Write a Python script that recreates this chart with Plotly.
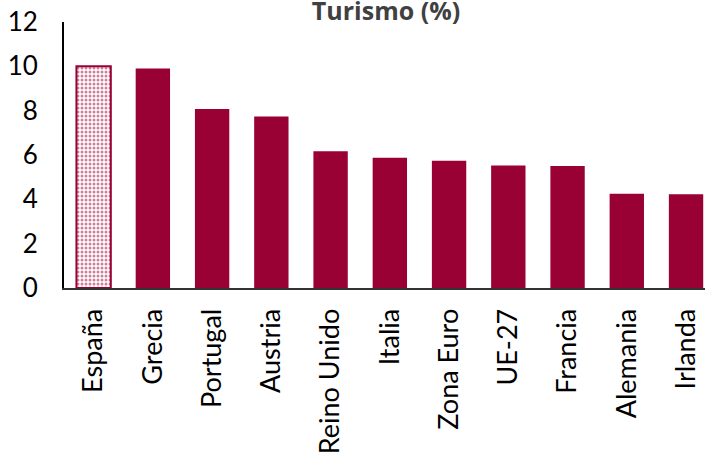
import plotly.graph_objects as go

# Peso del turismo en el PIB (%)
paises = ["España", "Grecia", "Portugal", "Austria", "Reino Unido", "Italia",
          "Zona Euro", "UE-27", "Francia", "Alemania", "Irlanda"]
turismo = [10.0, 9.9, 8.07, 7.74, 6.17, 5.88, 5.74, 5.53, 5.5, 4.25, 4.23]
y_ticks = [0, 2, 4, 6, 8, 10, 12]

granate = "#990033"

fig = go.Figure()

# España destacada con relleno punteado; el resto en color sólido
fig.add_trace(go.Bar(
    x=paises[:1], y=turismo[:1],
    marker=dict(
        color="white",
        line=dict(color=granate, width=2),
        pattern=dict(shape=".", fgcolor=granate, bgcolor="white",
                     size=4, solidity=0.45, fillmode="overlay"),
    ),
    width=0.58, hoverinfo="x+y", showlegend=False,
))
fig.add_trace(go.Bar(
    x=paises[1:], y=turismo[1:],
    marker=dict(color=granate, line=dict(width=0)),
    width=0.58, hoverinfo="x+y", showlegend=False,
))

fig.update_layout(
    width=705, height=456,
    margin=dict(l=64, r=0, t=22, b=168),
    paper_bgcolor="white", plot_bgcolor="white",
    font=dict(family="Lato, sans-serif", color="black"),
    title=dict(text="<b>Turismo (%)</b>", x=386 / 705, xanchor="center",
               y=1 - 11 / 456, yanchor="middle",
               font=dict(family="Open Sans, sans-serif", size=25, color="#404040")),
    barmode="overlay",
)

fig.update_xaxes(
    type="category", categoryorder="array", categoryarray=paises,
    range=[-0.5, 10.32],
    showline=True, linecolor="#333333", linewidth=2,
    showgrid=False, ticks="", tickangle=-90,
    tickfont=dict(size=27, family="Lato, sans-serif", color="black"),
    ticklabelstandoff=8,
)
fig.update_yaxes(
    range=[0, 12], tickvals=y_ticks, ticktext=[str(v) for v in y_ticks],
    showline=True, linecolor="black", linewidth=2,
    showgrid=False, zeroline=False, ticks="",
    tickfont=dict(size=26, family="Lato, sans-serif", color="black"),
    ticklabelstandoff=19,
)

fig.add_annotation(
    text="Fuente: Eurostat", xref="paper", yref="paper",
    x=-64 / 641 + 27 / 641, y=(288 - 454) / 266,
    xanchor="left", yanchor="top", showarrow=False,
    font=dict(size=26, family="Lato, sans-serif", color="black"),
)

fig.write_html("out.html")
